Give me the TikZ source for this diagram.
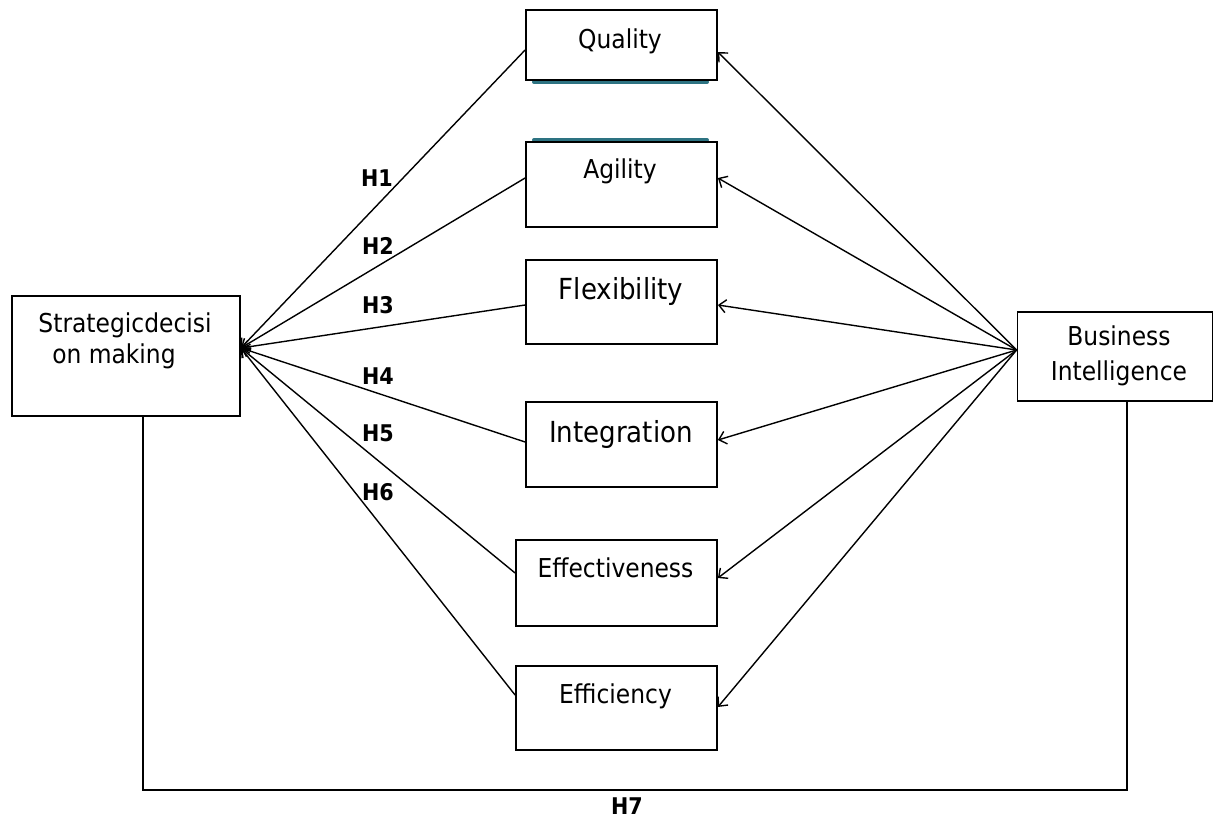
\documentclass[tikz,border=0pt]{standalone}
\usepackage{fontspec}
\setmainfont{DejaVu Sans Condensed}
\usetikzlibrary{arrows.meta}
\definecolor{stripcolor}{RGB}{45,115,130}
\begin{document}
\begin{tikzpicture}[x=1pt,y=-1pt,
  box/.style={draw, line width=1.8pt, fill=white, inner sep=0pt},
  txt/.style={inner sep=0pt, font=\fontsize{26}{31}\selectfont},
  bigtxt/.style={inner sep=0pt, font=\fontsize{29}{34}\selectfont},
  hlab/.style={inner sep=0pt, font=\fontsize{23}{27}\selectfont\bfseries},
  link/.style={line width=1.4pt, -{Straight Barb[length=7pt,width=13pt,line width=1.4pt]}},
  plain/.style={line width=1.6pt}]
\useasboundingbox (0,0) rectangle (1215,819);

% soft strips between the two top boxes
\draw[draw=stripcolor, line width=4pt, line cap=round] (534,82) -- (707,82);
\draw[draw=stripcolor, line width=4pt, line cap=round] (534,140) -- (707,140);

% outer constructs
\node[box, minimum width=228pt, minimum height=120pt] (sdm) at (126,356) {};
\node[box, minimum width=195pt, minimum height=89pt] (bi) at (1115,356.5) {};

% mediating constructs
\node[box, minimum width=191pt, minimum height=70pt] (q)  at (621.5,45) {};
\node[box, minimum width=191pt, minimum height=85pt] (a)  at (621.5,184.5) {};
\node[box, minimum width=191pt, minimum height=84pt] (f)  at (621.5,302) {};
\node[box, minimum width=191pt, minimum height=85pt] (ig) at (621.5,444.5) {};
\node[box, minimum width=201pt, minimum height=86pt] (ev) at (616.5,583) {};
\node[box, minimum width=201pt, minimum height=84pt] (ef) at (616.5,708) {};

% box texts
\node[txt, anchor=base] (st1) at (125,332) {Strategicdecisi};
\node[txt, anchor=base] (st2) at (114,363) {on making};
\node[txt, anchor=base] (bt1) at (1119,345) {Business};
\node[txt, anchor=base] (bt2) at (1119,380) {Intelligence};
\node[txt, anchor=base] (qt) at (620,48) {Quality};
\node[txt, anchor=base] (at) at (620,178) {Agility};
\node[bigtxt, anchor=base] (ft) at (621,299) {Flexibility};
\node[bigtxt, anchor=base] (it) at (621,442) {Integration};
\node[txt, anchor=base] (evt) at (615.5,577) {Effectiveness};
\node[txt, anchor=base] (eft) at (615.5,703) {Efficiency};

% hypotheses H1-H6: mediators -> strategic decision making
\draw[link] (q.west |- 0,50)   -- (sdm.east |- 0,348);
\draw[link] (a.west |- 0,178)  -- (sdm.east |- 0,348);
\draw[link] (f.west |- 0,305)  -- (sdm.east |- 0,348);
\draw[link] (ig.west |- 0,442) -- (sdm.east |- 0,348);
\draw[link] (ev.west |- 0,573) -- (sdm.east |- 0,348);
\draw[link] (ef.west |- 0,695) -- (sdm.east |- 0,348);

% business intelligence -> mediators
\draw[link] (bi.west |- 0,350) -- (q.east |- 0,52);
\draw[link] (bi.west |- 0,350) -- (a.east |- 0,178);
\draw[link] (bi.west |- 0,350) -- (f.east |- 0,305);
\draw[link] (bi.west |- 0,350) -- (ig.east |- 0,440);
\draw[link] (bi.west |- 0,350) -- (ev.east |- 0,578);
\draw[link] (bi.west |- 0,350) -- (ef.east |- 0,707);

% direct path H7
\draw[plain] (sdm.south -| 143,0) |- (1127,790) -- (bi.south -| 1127,0);

% hypothesis labels
\node[hlab] (h1) at (377,178) {H1};
\node[hlab] (h2) at (378,246) {H2};
\node[hlab] (h3) at (378,305) {H3};
\node[hlab] (h4) at (378,376) {H4};
\node[hlab] (h5) at (378,433) {H5};
\node[hlab] (h6) at (378,492) {H6};
\node[hlab] (h7) at (627,806) {H7};
\end{tikzpicture}
\end{document}
